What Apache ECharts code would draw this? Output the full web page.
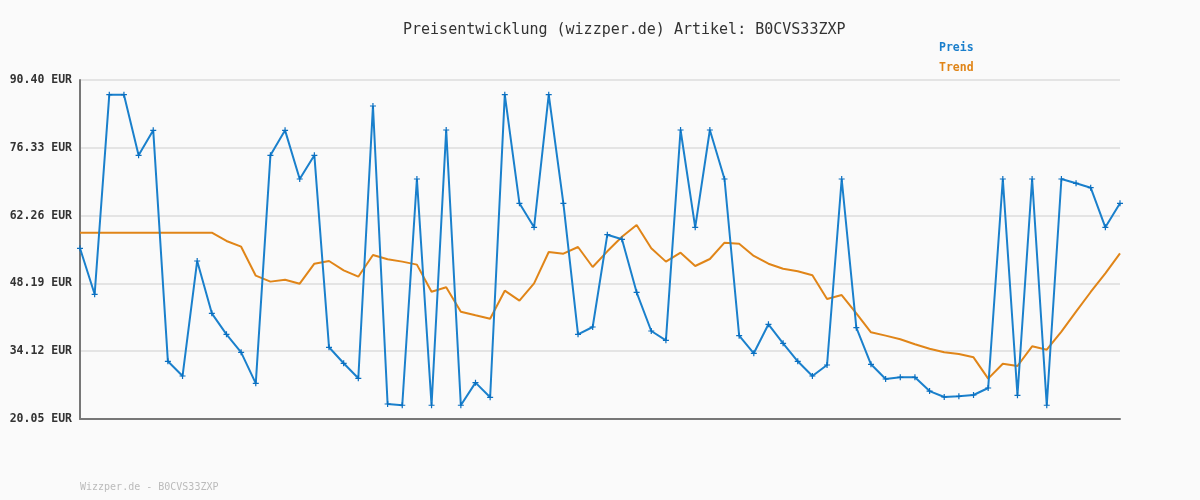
<!DOCTYPE html>
<html>
<head>
<meta charset="utf-8">
<script src="https://cdn.jsdelivr.net/npm/echarts@6/dist/echarts.min.js"></script>
<style>
  html, body { margin: 0; padding: 0; background: #fafafa; }
  #chart { width: 1200px; height: 500px; }
</style>
</head>
<body>
<div id="chart"></div>
<script>
// price history, one entry per sample (dates not shown on the chart)
const preis = [
  55.47, 45.93, 87.36, 87.36, 74.77, 79.95, 32.02, 28.97, 52.84, 41.98,
  37.62, 33.89, 27.45, 74.77, 79.95, 69.86, 74.77, 34.93, 31.61, 28.50,
  85.00, 23.16, 22.90, 69.86, 22.90, 80.02, 22.90, 27.59, 24.55, 87.36,
  64.81, 59.83, 87.36, 64.81, 37.62, 39.14, 58.30, 57.34, 46.34, 38.31,
  36.38, 80.02, 59.83, 80.02, 69.86, 37.34, 33.68, 39.70, 35.76, 32.02,
  28.97, 31.26, 69.86, 39.00, 31.40, 28.35, 28.70, 28.70, 25.84, 24.62,
  24.76, 25.03, 26.48, 69.86, 24.97, 69.86, 22.90, 69.86, 68.96, 68.05,
  59.83, 64.81
];
const trend = [
  58.71, 58.71, 58.71, 58.71, 58.71, 58.71, 58.71, 58.71, 58.71, 58.71,
  56.99, 55.81, 49.79, 48.56, 48.96, 48.13, 52.28, 52.84, 50.91, 49.58,
  54.08, 53.19, 52.71, 52.09, 46.47, 47.38, 42.32, 41.57, 40.87, 46.68,
  44.60, 48.21, 54.71, 54.36, 55.74, 51.59, 54.85, 57.88, 60.31, 55.47,
  52.71, 54.57, 51.80, 53.25, 56.64, 56.43, 53.88, 52.28, 51.24, 50.70,
  49.87, 44.95, 45.78, 41.98, 38.04, 37.35, 36.59, 35.55, 34.64, 33.89,
  33.54, 32.85, 28.42, 31.53, 31.05, 35.13, 34.44, 38.17, 42.32, 46.41,
  50.28, 54.43
];
const categories = preis.map((_, i) => String(i + 1));

// axis runs 20.05 .. 90.40 EUR in steps of 14.07
const yBase = 20.05;
const yTop = 90.40;
const yStep = 14.07;

const mono = "'DejaVu Sans Mono', 'Liberation Mono', monospace";
const chart = echarts.init(document.getElementById('chart'));

chart.setOption({
  backgroundColor: '#fafafa',
  animation: false,
  title: {
    text: 'Preisentwicklung (wizzper.de) Artikel: B0CVS33ZXP',
    left: 398,
    top: 18,
    textStyle: { fontFamily: mono, fontSize: 15, fontWeight: 'normal', color: '#333' }
  },
  legend: {
    orient: 'vertical',
    left: 929,
    top: 36,
    itemGap: 7,
    icon: 'none',
    itemWidth: 0,
    selectedMode: false,
    textStyle: { fontFamily: mono, fontSize: 11.5, fontWeight: 'bold' },
    data: [
      { name: 'Preis', textStyle: { color: '#1a7fcc' } },
      { name: 'Trend', textStyle: { color: '#e08518' } }
    ]
  },
  grid: { left: 80, right: 80, top: 80, bottom: 81 },
  xAxis: {
    type: 'category',
    data: categories,
    boundaryGap: false,
    axisLine: { lineStyle: { color: '#777', width: 2 } },
    axisTick: { show: false },
    axisLabel: { show: false },
    splitLine: { show: false }
  },
  yAxis: {
    type: 'value',
    min: 0,
    max: yTop - yBase,
    interval: yStep,
    axisLine: { show: true, lineStyle: { color: '#777', width: 2 } },
    axisTick: { show: false },
    axisLabel: {
      margin: 8,
      fontFamily: mono,
      fontSize: 11.5,
      fontWeight: 'bold',
      color: '#333',
      formatter: v => (v + yBase).toFixed(2) + ' EUR'
    },
    splitLine: { lineStyle: { color: '#e4e4e4', width: 2 } }
  },
  series: [
    {
      name: 'Preis',
      type: 'line',
      data: preis.map(v => +(v - yBase).toFixed(2)),
      color: '#1a7fcc',
      lineStyle: { width: 2, color: '#1a80cc' },
      symbol: 'path://M2,0H3V2H5V3H3V5H2V3H0V2H2Z',
      symbolSize: 6,
      itemStyle: { color: '#0a6fc0' },
      z: 3
    },
    {
      name: 'Trend',
      type: 'line',
      data: trend.map(v => +(v - yBase).toFixed(2)),
      color: '#e08518',
      lineStyle: { width: 2, color: '#e08518' },
      showSymbol: false,
      symbol: 'none',
      z: 2
    }
  ],
  graphic: [
    {
      type: 'text',
      left: 80,
      top: 482,
      style: {
        text: 'Wizzper.de - B0CVS33ZXP',
        fontFamily: mono,
        fontSize: 10,
        fill: '#bbb'
      }
    }
  ]
});
</script>
</body>
</html>
